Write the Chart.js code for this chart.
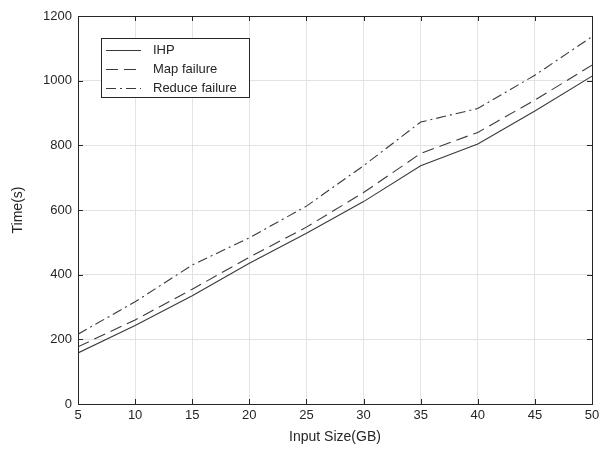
<!DOCTYPE html>
<html lang="en">
<head>
    <title>Input Size vs Time</title>
    <meta charset="utf-8">
    <script src="https://cdn.jsdelivr.net/npm/chart.js@4/dist/chart.umd.min.js"></script>
    <style>
        body { margin: 0; background: #fff; }
        #wrap { width: 610px; height: 450px; }
    </style>
</head>
<body>
<div id="wrap"><canvas id="line-chart" width="610" height="450"></canvas></div>

<script>
var sizes = [5, 10, 15, 20, 25, 30, 35, 40, 45, 50];
var ihp = [158, 243, 335, 435, 528, 626, 737, 804, 906, 1014];
var mapFailure = [177, 260, 355, 454, 547, 654, 775, 840, 940, 1048];
var reduceFailure = [216, 316, 430, 514, 612, 737, 872, 914, 1017, 1136];
var seriesNames = ['IHP', 'Map failure', 'Reduce failure'];
var dashes = [[], [12, 6], [10, 4, 2, 4]];
var lineColor = '#3a3a3a';
var textColor = '#262626';

function toPoints(vals) {
    return sizes.map(function (s, i) { return {x: s, y: vals[i]}; });
}

var allSeries = [ihp, mapFailure, reduceFailure];
var datasets = [];
for (var i = 0; i < allSeries.length; i++) {
    datasets.push({
        label: seriesNames[i],
        data: toPoints(allSeries[i]),
        borderColor: lineColor,
        borderWidth: 1.1,
        borderDash: dashes[i],
        pointRadius: 0,
        fill: false,
        tension: 0
    });
}

// box around the plot, inward ticks and legend inside
var framePlugin = {
    id: 'frame',
    afterDraw: function (chart) {
        var ctx = chart.ctx, a = chart.chartArea;
        var xs = chart.scales.x, ys = chart.scales.y;
        ctx.save();
        ctx.strokeStyle = '#262626';
        ctx.lineWidth = 1;
        ctx.setLineDash([]);
        ctx.strokeRect(a.left + 0.5, a.top + 0.5, a.right - a.left, a.bottom - a.top);
        xs.ticks.forEach(function (t) {
            var px = Math.round(xs.getPixelForValue(t.value)) + 0.5;
            ctx.beginPath();
            ctx.moveTo(px, a.bottom); ctx.lineTo(px, a.bottom - 5);
            ctx.moveTo(px, a.top); ctx.lineTo(px, a.top + 5);
            ctx.stroke();
        });
        ys.ticks.forEach(function (t) {
            var py = Math.round(ys.getPixelForValue(t.value)) + 0.5;
            ctx.beginPath();
            ctx.moveTo(a.left, py); ctx.lineTo(a.left + 5, py);
            ctx.moveTo(a.right, py); ctx.lineTo(a.right - 5, py);
            ctx.stroke();
        });

        // legend
        var lx = a.left + 23, ly = a.top + 22, lw = 148, lh = 59;
        ctx.fillStyle = '#fff';
        ctx.fillRect(lx, ly, lw, lh);
        ctx.strokeStyle = '#262626';
        ctx.strokeRect(lx + 0.5, ly + 0.5, lw, lh);
        ctx.font = '13px "Liberation Sans", Arial, sans-serif';
        ctx.textBaseline = 'middle';
        chart.data.datasets.forEach(function (ds, k) {
            var yy = ly + 12 + k * 19 + 0.5;
            ctx.strokeStyle = lineColor;
            ctx.lineWidth = 1.1;
            ctx.setLineDash(ds.borderDash);
            ctx.beginPath();
            ctx.moveTo(lx + 5, yy); ctx.lineTo(lx + 40, yy);
            ctx.stroke();
            ctx.setLineDash([]);
            ctx.fillStyle = textColor;
            ctx.fillText(ds.label, lx + 52, yy);
        });
        ctx.restore();
    }
};

new Chart(document.getElementById('line-chart'), {
    type: 'line',
    data: {datasets: datasets},
    plugins: [framePlugin],
    options: {
        responsive: false,
        animation: false,
        layout: {padding: {left: 0, right: 18, top: 16, bottom: 0}},
        plugins: {legend: {display: false}, tooltip: {enabled: false}},
        scales: {
            x: {
                type: 'linear',
                min: 5, max: 50,
                ticks: {stepSize: 5, color: textColor, padding: 4,
                        font: {family: '"Liberation Sans", Arial, sans-serif', size: 13}},
                grid: {color: '#e3e3e3', tickLength: 0, drawTicks: false},
                border: {display: false},
                title: {display: true, text: 'Input Size(GB)', color: textColor, padding: {top: 2},
                        font: {family: '"Liberation Sans", Arial, sans-serif', size: 14}},
                afterFit: function (s) { s.height = 46; }
            },
            y: {
                min: 0, max: 1200,
                ticks: {stepSize: 200, color: textColor, padding: 6,
                        callback: function (v) { return String(v); },
                        font: {family: '"Liberation Sans", Arial, sans-serif', size: 13}},
                grid: {color: '#e3e3e3', tickLength: 0, drawTicks: false},
                border: {display: false},
                title: {display: true, text: 'Time(s)', color: textColor, padding: {top: 10, bottom: 4},
                        font: {family: '"Liberation Sans", Arial, sans-serif', size: 14}},
                afterFit: function (s) { s.width = 78; }
            }
        }
    }
});
</script>
</body>
</html>
